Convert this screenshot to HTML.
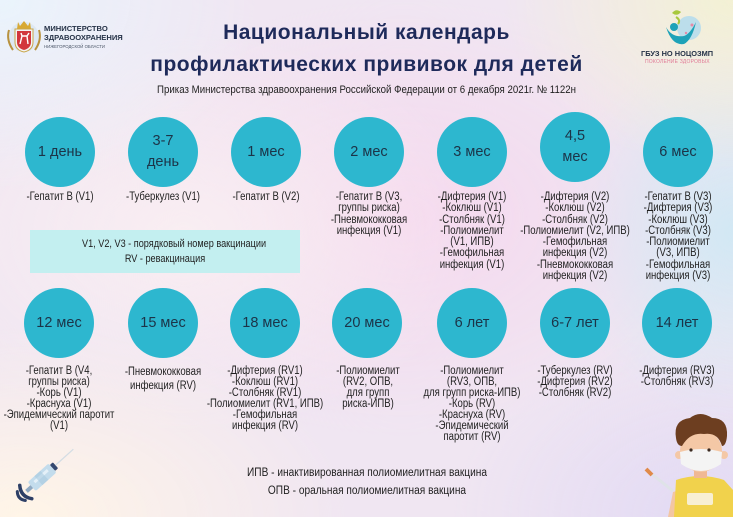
<!DOCTYPE html>
<html><head><meta charset="utf-8">
<style>
*{margin:0;padding:0;box-sizing:border-box}
html,body{width:733px;height:517px;overflow:hidden}
body{position:relative;font-family:"Liberation Sans","DejaVu Sans",sans-serif;
background:
radial-gradient(ellipse 260px 190px at 0% 0%, #eaf4fc 0%, rgba(234,244,252,0) 100%),
radial-gradient(ellipse 230px 170px at 100% 0%, #f3f1d4 0%, rgba(243,241,212,0) 100%),
radial-gradient(ellipse 170px 190px at 100% 45%, #d2e8f4 0%, rgba(210,232,244,0) 100%),
radial-gradient(ellipse 330px 190px at 3% 100%, #fff5e7 0%, rgba(255,245,231,0) 100%),
radial-gradient(ellipse 260px 190px at 97% 100%, #e2daf4 0%, rgba(226,218,244,0) 100%),
radial-gradient(ellipse 300px 200px at 25% 45%, #f9eef2 0%, rgba(249,238,242,0) 100%),
radial-gradient(ellipse 320px 220px at 55% 42%, #f5d8ee 0%, rgba(245,216,238,0) 100%),
#f0e6f2;}
svg.bg{position:absolute;left:0;top:0}
.c{position:absolute;width:70px;height:70px;border-radius:50%;background:#2db7cf;color:#1c3448;font-size:14.5px;line-height:21px;display:flex;align-items:center;justify-content:center;text-align:center}
.d{position:absolute;width:200px;text-align:center;font-size:11.5px;line-height:11.3px;color:#1f1f1f;transform:scaleX(0.83);white-space:nowrap}
.t{position:absolute;left:0;width:733px;text-align:center;white-space:nowrap}
</style></head><body>

<svg class="bg" width="733" height="517" viewBox="0 0 733 517">
  <!-- coat of arms -->
  <g>
    <ellipse cx="24" cy="37" rx="15" ry="15" fill="#d9e6f1" opacity="0.8"/>
    <path d="M18 22 L20 26 L24 21 L28 26 L30 22 L31 29 L17 29 Z" fill="#d8a933"/>
    <path d="M15 29 H33 V42 Q33 50 24 52 Q15 50 15 42 Z" fill="#f4f4f4" stroke="#c9a64a" stroke-width="1"/>
    <path d="M17 31 H31 V42 Q31 48 24 50 Q17 48 17 42 Z" fill="#d2363c"/>
    <path d="M20 44 L22 36 L21 33 M22 36 L27 36 L28 44 M27 36 L29 33" stroke="#fff" stroke-width="1.4" fill="none"/>
    <path d="M9 30 Q6 40 13 50" stroke="#b8923e" stroke-width="2" fill="none"/>
    <path d="M39 30 Q42 40 35 50" stroke="#b8923e" stroke-width="2" fill="none"/>
  </g>
  <!-- right logo -->
  <g>
    <circle cx="689" cy="28" r="12" fill="#b6dcec" opacity="0.9"/>
    <path d="M672 13 Q676 8 681 12 Q677 17 672 13 Z" fill="#a8c83c"/>
    <path d="M676 17 Q681 20 678 24" stroke="#a8c83c" stroke-width="2" fill="none"/>
    <circle cx="674" cy="27" r="4" fill="#1da2b8"/>
    <path d="M666 27 Q672 38 684 36 Q690 34 696 22 Q692 40 684 44 Q672 46 666 27 Z" fill="#1da2b8"/>
    <circle cx="692" cy="25" r="1.5" fill="#e58aa8"/>
    <circle cx="686" cy="33" r="1.2" fill="#e58aa8"/>
  </g>
  <!-- syringe -->
  <g transform="translate(28,490) rotate(-42)">
    <path d="M-3 -9 Q-10 0 -3 9" stroke="#2d3f66" stroke-width="3.5" fill="none" stroke-linecap="round"/>
    <path d="M-9 -6 Q-14 0 -9 6" stroke="#2d3f66" stroke-width="3" fill="none" stroke-linecap="round"/>
    <rect x="-2" y="-2" width="8" height="4" fill="#8fa9c2"/>
    <rect x="5" y="-6" width="28" height="12" rx="2" fill="#c3dcec"/>
    <rect x="10" y="-3" width="18" height="3" fill="#e4f0f8"/>
    <rect x="14" y="-6" width="8" height="12" fill="#a9c9e0" opacity="0.6"/>
    <rect x="33" y="-4" width="4" height="8" rx="1" fill="#34486f"/>
    <line x1="37" y1="0" x2="61" y2="0" stroke="#d3dde4" stroke-width="1.2"/>
  </g>
  <!-- boy -->
  <g>
    <path d="M648 471 L673 491" stroke="#dfe3e8" stroke-width="3"/>
    <path d="M646 469 L652 475" stroke="#e08a4a" stroke-width="4"/>
    <path d="M673 492 L668 517 L680 517 L680 490 Z" fill="#f3c6a3"/>
    <path d="M676 480 Q700 472 724 480 L733 490 L733 517 L674 517 Z" fill="#f1d24c"/>
    <rect x="687" y="493" width="26" height="12" rx="2" fill="#f8efd2"/>
    <rect x="694" y="466" width="13" height="12" fill="#f0b894"/>
    <ellipse cx="701" cy="451" rx="21" ry="21" fill="#f4c8a6"/>
    <circle cx="679" cy="455" r="4" fill="#f4c8a6"/>
    <circle cx="724" cy="455" r="4" fill="#f4c8a6"/>
    <path d="M680 452 Q701 446 722 452 L721 464 Q701 478 681 464 Z" fill="#f4f4f4"/>
    <path d="M676 438 Q673 420 690 418 Q700 410 712 418 Q728 418 727 436 Q726 446 722 446 Q718 432 704 434 Q690 432 682 446 Q677 446 676 438 Z" fill="#6d3e20"/>
    <circle cx="691" cy="450" r="1.6" fill="#3a2a20"/>
    <circle cx="709" cy="450" r="1.6" fill="#3a2a20"/>
  </g>
</svg>

<!-- left logo text -->
<div style="position:absolute;left:44px;top:25px;font-size:7.6px;font-weight:bold;color:#253247;line-height:8.5px;white-space:nowrap">МИНИСТЕРСТВО<br>ЗДРАВООХРАНЕНИЯ</div>
<div style="position:absolute;left:44px;top:44px;font-size:4.3px;color:#4a5566;white-space:nowrap">НИЖЕГОРОДСКОЙ ОБЛАСТИ</div>
<!-- right logo text -->
<div style="position:absolute;left:641px;top:49px;font-size:7.4px;font-weight:bold;color:#253247;white-space:nowrap">ГБУЗ НО НОЦОЗМП</div>
<div style="position:absolute;left:645px;top:59px;font-size:5px;color:#e07a96;white-space:nowrap;letter-spacing:0.2px">ПОКОЛЕНИЕ ЗДОРОВЫХ</div>

<!-- title -->
<div class="t" style="top:17px;font-size:21px;line-height:32px;font-weight:bold;color:#1e2a5a;letter-spacing:0.5px">Национальный календарь<br>профилактических прививок для детей</div>
<div class="t" style="top:84px;font-size:11px;line-height:12px;color:#222;transform:scaleX(0.88)">Приказ Министерства здравоохранения Российской Федерации от 6 декабря 2021г. № 1122н</div>

<!-- row 1 circles -->
<div class="c" style="left:25px;top:117px">1 день</div>
<div class="c" style="left:128px;top:117px">3-7<br>день</div>
<div class="c" style="left:231px;top:117px">1 мес</div>
<div class="c" style="left:334px;top:117px">2 мес</div>
<div class="c" style="left:437px;top:117px">3 мес</div>
<div class="c" style="left:540px;top:112px">4,5<br>мес</div>
<div class="c" style="left:643px;top:117px">6 мес</div>

<!-- row 1 descriptions -->
<div class="d" style="left:-40px;top:192px">-Гепатит В (V1)</div>
<div class="d" style="left:63px;top:192px">-Туберкулез (V1)</div>
<div class="d" style="left:166px;top:192px">-Гепатит В (V2)</div>
<div class="d" style="left:269px;top:192px">-Гепатит В (V3,<br>группы риска)<br>-Пневмококковая<br>инфекция (V1)</div>
<div class="d" style="left:372px;top:192px">-Дифтерия (V1)<br>-Коклюш (V1)<br>-Столбняк (V1)<br>-Полиомиелит<br>(V1, ИПВ)<br>-Гемофильная<br>инфекция (V1)</div>
<div class="d" style="left:475px;top:192px">-Дифтерия (V2)<br>-Коклюш (V2)<br>-Столбняк (V2)<br>-Полиомиелит (V2, ИПВ)<br>-Гемофильная<br>инфекция (V2)<br>-Пневмококковая<br>инфекция (V2)</div>
<div class="d" style="left:578px;top:192px">-Гепатит В (V3)<br>-Дифтерия (V3)<br>-Коклюш (V3)<br>-Столбняк (V3)<br>-Полиомиелит<br>(V3, ИПВ)<br>-Гемофильная<br>инфекция (V3)</div>

<!-- legend box -->
<div style="position:absolute;left:30px;top:230px;width:270px;height:43px;background:#c3eff0"></div>
<div class="d" style="left:65px;top:237px;width:200px;font-size:11px;line-height:15px;color:#1f1f1f">V1, V2, V3 - порядковый номер вакцинации<br>RV - ревакцинация</div>

<!-- row 2 circles -->
<div class="c" style="left:24px;top:288px">12 мес</div>
<div class="c" style="left:128px;top:288px">15 мес</div>
<div class="c" style="left:230px;top:288px">18 мес</div>
<div class="c" style="left:332px;top:288px">20 мес</div>
<div class="c" style="left:437px;top:288px">6 лет</div>
<div class="c" style="left:540px;top:288px">6-7 лет</div>
<div class="c" style="left:642px;top:288px">14 лет</div>

<!-- row 2 descriptions -->
<div class="d" style="left:-41px;top:366px;line-height:11px">-Гепатит В (V4,<br>группы риска)<br>-Корь (V1)<br>-Краснуха (V1)<br>-Эпидемический паротит<br>(V1)</div>
<div class="d" style="left:63px;top:365px;line-height:14.3px">-Пневмококковая<br>инфекция (RV)</div>
<div class="d" style="left:165px;top:366px;line-height:11px">-Дифтерия (RV1)<br>-Коклюш (RV1)<br>-Столбняк (RV1)<br>-Полиомиелит (RV1, ИПВ)<br>-Гемофильная<br>инфекция (RV)</div>
<div class="d" style="left:268px;top:366px;line-height:11px">-Полиомиелит<br>(RV2, ОПВ,<br>для групп<br>риска-ИПВ)</div>
<div class="d" style="left:372px;top:366px;line-height:11px">-Полиомиелит<br>(RV3, ОПВ,<br>для групп риска-ИПВ)<br>-Корь (RV)<br>-Краснуха (RV)<br>-Эпидемический<br>паротит (RV)</div>
<div class="d" style="left:475px;top:366px;line-height:11px">-Туберкулез (RV)<br>-Дифтерия (RV2)<br>-Столбняк (RV2)</div>
<div class="d" style="left:577px;top:366px;line-height:11px">-Дифтерия (RV3)<br>-Столбняк (RV3)</div>

<!-- bottom notes -->
<div class="d" style="left:217px;top:464px;width:300px;font-size:11.5px;line-height:18px;transform:scaleX(0.88)">ИПВ - инактивированная полиомиелитная вакцина<br>ОПВ - оральная полиомиелитная вакцина</div>

</body></html>
